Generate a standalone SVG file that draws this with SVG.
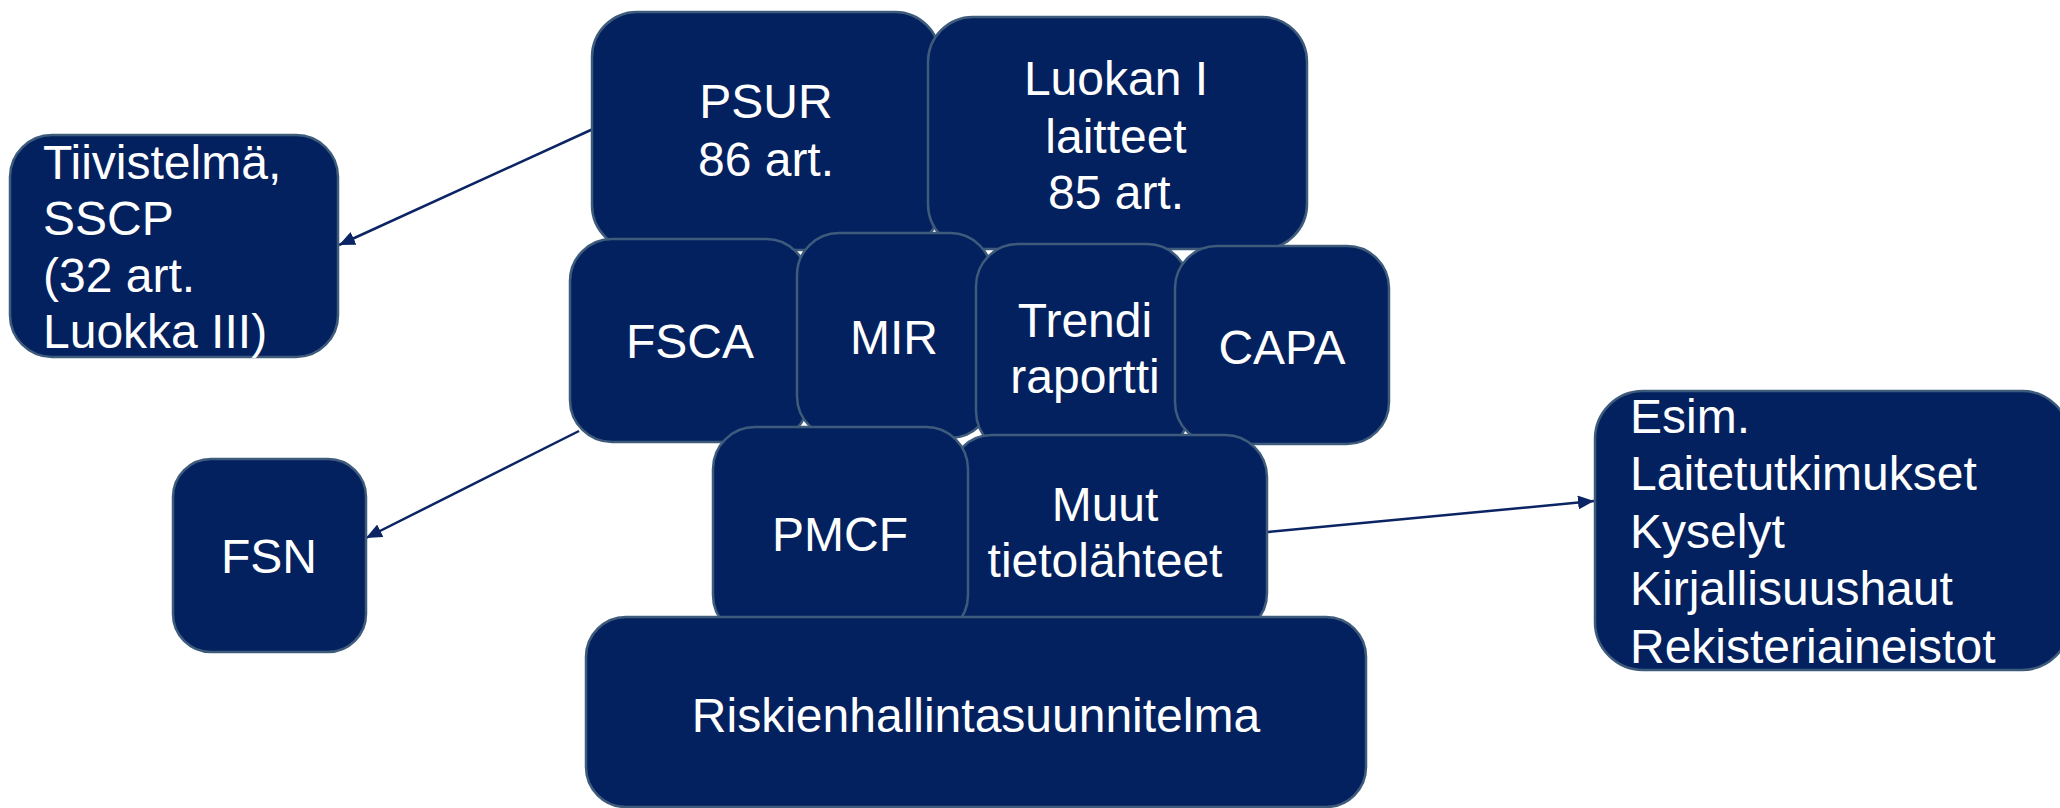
<svg xmlns="http://www.w3.org/2000/svg" width="2060" height="808" viewBox="0 0 2060 808">
<style>
.box{fill:#03215E;stroke:#3E5B7C;stroke-width:2.5}
.t{fill:#FFFFFF;font-family:"Liberation Sans",Arial,sans-serif;font-size:48px}
.c{text-anchor:middle}
.edge{stroke:#0B2463;stroke-width:2.5;fill:none;marker-end:url(#ah)}
</style>
<defs>
<marker id="ah" markerUnits="userSpaceOnUse" markerWidth="18" markerHeight="14" refX="16" refY="7" orient="auto">
<path d="M0,0 L16,7 L0,14 Z" fill="#0B2463"/>
</marker>
</defs>
<rect width="2060" height="808" fill="#FFFFFF"/>
<g id="connectors">
<line class="edge" x1="593" y1="129" x2="339" y2="245"/>
<line class="edge" x1="579" y1="431" x2="366" y2="538"/>
<line class="edge" x1="1268" y1="532" x2="1594" y2="501"/>
</g>
<g id="tiivistelma">
<rect class="box" x="10" y="135" width="328" height="222" rx="42"/>
<text class="t" x="43" y="179">Tiivistelmä,</text>
<text class="t" x="43" y="235">SSCP</text>
<text class="t" x="43" y="292">(32 art.</text>
<text class="t" x="43" y="348">Luokka III)</text>
</g>
<g id="fsn">
<rect class="box" x="173" y="459" width="193" height="193" rx="38"/>
<text class="t c" x="269" y="573">FSN</text>
</g>
<g id="esim">
<rect class="box" x="1595" y="391" width="475" height="279" rx="48"/>
<text class="t" x="1630" y="433">Esim.</text>
<text class="t" x="1630" y="490">Laitetutkimukset</text>
<text class="t" x="1630" y="548">Kyselyt</text>
<text class="t" x="1630" y="605">Kirjallisuushaut</text>
<text class="t" x="1630" y="663">Rekisteriaineistot</text>
</g>
<g id="psur">
<rect class="box" x="592" y="12" width="348" height="238" rx="45"/>
<text class="t c" x="766" y="118">PSUR</text>
<text class="t c" x="766" y="176">86 art.</text>
</g>
<g id="luokan">
<rect class="box" x="928" y="17" width="379" height="232" rx="45"/>
<text class="t c" x="1116" y="95">Luokan I</text>
<text class="t c" x="1116" y="153">laitteet</text>
<text class="t c" x="1116" y="209">85 art.</text>
</g>
<g id="fsca">
<rect class="box" x="570" y="239" width="238" height="203" rx="42"/>
<text class="t c" x="690" y="358">FSCA</text>
</g>
<g id="mir">
<rect class="box" x="797" y="233" width="195" height="205" rx="42"/>
<text class="t c" x="894" y="354">MIR</text>
</g>
<g id="trendi">
<rect class="box" x="976" y="244" width="213" height="209" rx="42"/>
<text class="t c" x="1085" y="337">Trendi</text>
<text class="t c" x="1085" y="393">raportti</text>
</g>
<g id="capa">
<rect class="box" x="1175" y="246" width="214" height="198" rx="42"/>
<text class="t c" x="1282" y="364">CAPA</text>
</g>
<g id="muut">
<rect class="box" x="950" y="435" width="317" height="200" rx="42"/>
<text class="t c" x="1105" y="521">Muut</text>
<text class="t c" x="1105" y="577">tietolähteet</text>
</g>
<g id="pmcf">
<rect class="box" x="713" y="427" width="255" height="210" rx="42"/>
<text class="t c" x="840" y="551">PMCF</text>
</g>
<g id="riskienhallinta">
<rect class="box" x="586" y="617" width="780" height="190" rx="40"/>
<text class="t c" x="976" y="732">Riskienhallintasuunnitelma</text>
</g>
</svg>
